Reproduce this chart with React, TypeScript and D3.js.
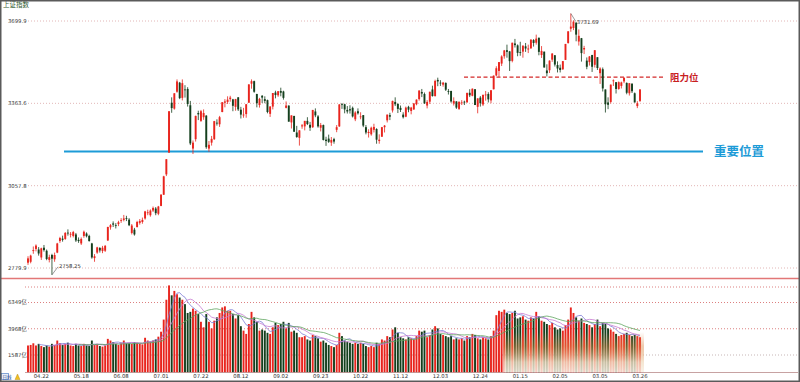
import React from 'react';
import * as d3 from 'd3';

const dates = [
  '04.15','04.16','04.17','04.20','04.21','04.22','04.23','04.24','04.27','04.28','04.29','04.30',
  '05.06','05.07','05.08','05.11','05.12','05.13','05.14','05.15','05.18','05.19','05.20','05.21','05.22','05.25','05.26','05.27','05.28','05.29',
  '06.01','06.02','06.03','06.04','06.05','06.08','06.09','06.10','06.11','06.12','06.15','06.16','06.17','06.18','06.19','06.22','06.23','06.24','06.29','06.30',
  '07.01','07.02','07.03','07.06','07.07','07.08','07.09','07.10','07.13','07.14','07.15','07.16','07.17','07.20','07.21','07.22','07.23','07.24','07.27','07.28','07.29','07.30','07.31',
  '08.03','08.04','08.05','08.06','08.07','08.10','08.11','08.12','08.13','08.14','08.17','08.18','08.19','08.20','08.21','08.24','08.25','08.26','08.27','08.28','08.31',
  '09.01','09.02','09.03','09.04','09.07','09.08','09.09','09.10','09.11','09.14','09.15','09.16','09.17','09.18','09.21','09.22','09.23','09.24','09.25','09.28','09.29','09.30',
  '10.09','10.12','10.13','10.14','10.15','10.16','10.19','10.20','10.21','10.22','10.23','10.26','10.27','10.28','10.29','10.30',
  '11.02','11.03','11.04','11.05','11.06','11.09','11.10','11.11','11.12','11.13','11.16','11.17','11.18','11.19','11.20','11.23','11.24','11.25','11.26','11.27','11.30',
  '12.01','12.02','12.03','12.04','12.07','12.08','12.09','12.10','12.11','12.14','12.15','12.16','12.17','12.18','12.21','12.22','12.23','12.24','12.25','12.28','12.29','12.30','12.31',
  '01.04','01.05','01.06','01.07','01.08','01.11','01.12','01.13','01.14','01.15','01.18','01.19','01.20','01.21','01.22','01.25','01.26','01.27','01.28','01.29',
  '02.01','02.02','02.03','02.04','02.05','02.08','02.09','02.10','02.18','02.19','02.22','02.23','02.24','02.25','02.26',
  '03.01','03.02','03.03','03.04','03.05','03.08','03.09','03.10','03.11','03.12','03.15','03.16','03.17','03.18','03.19','03.22','03.23','03.24','03.25','03.26',
];

const opens = [
  2797,2800,2835,2842,2840,2814,2846,2836,2806,2822,2808,2830,
  2868,2876,2875,2896,2890,2885,2890,2872,2860,2885,2893,2885,2860,2812,2830,2845,2835,2836,
  2870,2914,2927,2921,2925,2937,2939,2945,2940,2895,2906,2915,2929,2932,2944,2962,2955,2971,2978,2960,
  2987,3026,3098,3177,3366,3343,3409,3445,3385,3418,3420,3356,3192,3227,3326,3296,3310,3316,3192,3214,3227,3289,3283,
  3330,3366,3369,3380,3379,3350,3387,3339,3318,3322,3366,3441,3451,3400,3357,3393,3380,3376,3323,3351,3406,
  3395,3412,3410,3346,3355,3290,3315,3252,3232,3275,3275,3296,3281,3272,3332,3313,3270,3280,3225,3229,3214,3227,
  3262,3275,3360,3360,3338,3341,3346,3302,3333,3312,3318,3272,3250,3245,3262,3265,
  3220,3236,3272,3298,3318,3336,3369,3362,3346,3320,3312,3350,3334,3340,3360,3380,3408,3400,3355,3370,3418,
  3392,3456,3445,3437,3444,3412,3412,3363,3371,3342,3366,3370,3368,3405,3393,3419,3350,3386,3359,3396,3400,3375,3419,
  3474,3492,3522,3552,3577,3572,3533,3605,3597,3569,3571,3593,3580,3585,3619,3608,3629,3557,3571,3494,
  3495,3538,3556,3516,3505,3499,3537,3607,3667,3670,3693,3613,3627,3580,3534,
  3528,3557,3517,3548,3483,3499,3418,3367,3369,3451,3447,3420,3432,3450,3444,3403,3441,3403,3353,3373,
];

const highs = [
  2818,2823,2850,2857,2848,2846,2855,2840,2823,2826,2830,2862,
  2882,2886,2898,2907,2898,2902,2895,2880,2880,2903,2897,2889,2862,2825,2849,2848,2852,2855,
  2916,2925,2934,2928,2936,2945,2956,2953,2945,2925,2912,2936,2942,2947,2970,2974,2975,2985,2983,2987,
  3028,3093,3153,3333,3387,3403,3458,3448,3458,3435,3427,3373,3222,3316,3335,3338,3340,3318,3220,3239,3296,3302,3315,
  3368,3380,3391,3393,3381,3381,3388,3350,3346,3361,3439,3458,3453,3401,3385,3396,3391,3378,3353,3404,3413,
  3412,3425,3413,3371,3355,3317,3315,3277,3261,3284,3296,3310,3292,3338,3344,3318,3288,3282,3236,3244,3235,3232,
  3280,3361,3365,3362,3353,3356,3351,3333,3344,3329,3318,3280,3264,3274,3285,3268,
  3245,3273,3280,3320,3327,3374,3387,3362,3355,3329,3351,3354,3350,3365,3379,3414,3420,3406,3376,3409,3433,
  3457,3465,3455,3448,3446,3420,3413,3387,3372,3370,3376,3374,3406,3419,3422,3419,3383,3392,3397,3412,3407,3415,3474,
  3511,3528,3556,3578,3600,3574,3608,3624,3601,3612,3596,3607,3600,3622,3623,3642,3629,3594,3571,3519,
  3535,3565,3557,3531,3518,3532,3603,3656,3732,3703,3694,3664,3628,3595,3547,
  3553,3558,3577,3548,3507,3506,3418,3387,3438,3458,3447,3450,3449,3467,3446,3443,3442,3406,3372,3419,
];

const lows = [
  2790,2795,2826,2834,2820,2806,2833,2805,2798,2758,2800,2828,
  2862,2866,2872,2886,2880,2880,2865,2862,2855,2879,2880,2866,2810,2800,2826,2830,2828,2832,
  2868,2906,2915,2910,2918,2929,2934,2935,2918,2890,2886,2913,2923,2926,2940,2955,2950,2966,2955,2955,
  2986,3025,3092,3177,3327,3339,3405,3380,3375,3386,3351,3205,3172,3218,3299,3292,3300,3191,3180,3203,3224,3278,3273,
  3329,3348,3361,3370,3333,3335,3334,3305,3308,3308,3366,3421,3405,3348,3347,3365,3364,3325,3311,3340,3383,
  3389,3391,3378,3344,3293,3267,3254,3232,3203,3266,3260,3280,3258,3269,3310,3270,3256,3222,3202,3213,3202,3210,
  3253,3273,3342,3325,3324,3324,3309,3295,3320,3302,3272,3245,3233,3240,3252,3210,
  3210,3236,3252,3290,3299,3328,3353,3326,3330,3305,3310,3329,3321,3338,3356,3374,3388,3362,3344,3361,3390,
  3390,3431,3432,3429,3412,3398,3366,3355,3342,3338,3357,3357,3365,3388,3391,3357,3325,3351,3353,3374,3367,3364,3418,
  3471,3468,3512,3542,3546,3492,3527,3588,3552,3554,3546,3570,3565,3582,3592,3600,3556,3545,3506,3470,
  3484,3529,3510,3486,3486,3496,3537,3604,3654,3661,3614,3596,3530,3561,3499,
  3514,3488,3506,3496,3440,3410,3328,3341,3363,3432,3402,3417,3422,3443,3399,3394,3404,3367,3345,3369,
];

const closes = [
  2811,2820,2838,2853,2827,2844,2838,2809,2815,2810,2822,2860,
  2878,2872,2895,2895,2892,2898,2870,2868,2875,2899,2884,2868,2814,2818,2847,2837,2846,2852,
  2915,2921,2923,2919,2931,2938,2944,2943,2921,2920,2890,2932,2935,2939,2968,2965,2971,2980,2962,2985,
  3026,3091,3153,3333,3345,3403,3450,3384,3443,3415,3361,3211,3214,3315,3321,3333,3326,3197,3206,3228,3295,3287,3310,
  3368,3371,3378,3386,3354,3380,3340,3320,3320,3360,3438,3451,3409,3364,3381,3386,3373,3330,3351,3404,3396,
  3411,3405,3385,3355,3293,3317,3255,3235,3260,3279,3296,3284,3270,3338,3317,3275,3280,3224,3220,3217,3224,3218,
  3272,3359,3359,3340,3332,3336,3313,3328,3325,3313,3278,3252,3254,3270,3273,3225,
  3225,3272,3278,3320,3312,3373,3360,3342,3338,3310,3347,3339,3347,3363,3378,3414,3402,3363,3369,3409,3392,
  3452,3450,3443,3445,3417,3411,3371,3373,3347,3370,3367,3367,3404,3395,3421,3357,3383,3364,3397,3398,3379,3415,3473,
  3503,3528,3551,3576,3570,3532,3608,3598,3566,3567,3596,3584,3584,3621,3607,3625,3570,3574,3506,3483,
  3534,3563,3518,3502,3496,3532,3603,3656,3676,3697,3642,3637,3565,3586,3509,
  3551,3509,3577,3504,3502,3422,3360,3358,3437,3454,3420,3447,3446,3464,3405,3443,3411,3367,3364,3418,
];

// turnover, 亿
const volumes = [
  2450,2500,2650,2450,2600,2400,2300,2450,2350,2600,2500,2900,
  2650,2500,2600,2700,2450,2400,2600,2450,2400,2600,2450,2400,2900,2500,2600,2400,2350,2450,
  3050,2900,2750,2600,2500,2700,2900,2650,2650,2600,2750,2700,2600,2550,3150,2900,2800,2900,3000,3250,
  3700,4800,6600,7900,7000,7400,7100,6800,6600,6200,5400,5500,5800,5600,5300,4600,4100,5300,4600,4000,4700,5000,5400,
  5900,6000,5600,5600,5300,4900,5200,4200,3800,3500,4400,5500,5000,4600,3800,3900,3800,3600,3500,4100,4500,
  4300,4400,4600,4000,4500,3700,3800,3600,3200,3200,3300,3000,2900,3400,3300,3100,2800,2900,2700,2500,2400,2300,
  2500,3600,3300,2900,2800,2700,2600,2700,2600,2700,2600,2400,2300,2400,2300,2700,
  2600,3000,2900,3300,3200,3900,4100,3600,3200,3100,3000,3200,3100,3000,3300,3800,3700,3800,3200,3400,3900,
  4200,4000,3500,3400,3300,3200,3300,3000,3100,3000,3100,2900,3300,3200,3500,3400,3100,3000,3200,3100,3000,3300,3800,
  5200,5600,5500,5700,5400,5300,5400,5600,4900,5000,5100,4800,4700,5000,4900,5500,5100,4700,4600,4400,
  4300,4500,4100,3900,4000,3800,4300,4800,5900,5400,5000,4700,4900,4500,4400,
  4300,4100,4400,4800,4200,4500,4400,4000,3900,3700,3500,3300,3400,3500,3600,3400,3300,3400,3300,3200,
];

const dateTicks = ['04.22','05.18','06.08','07.01','07.22','08.12','09.02','09.23','10.22','11.12','12.03','12.24','01.15','02.05','03.05','03.26'];
const priceTicks = [2779.9, 3057.8, 3363.6, 3699.9];
const volTicks = [1587, 3968, 6349];
const maPeriods = [5, 10, 20];
const maColors = ['#7c7cd6', '#c77ad0', '#5ea55e'];
const supportLevel = 3181;
const resistanceLevel = 3467;

const UP = '#e8241d';
const DOWN = '#143f1d';
const NUM_FONT = 'DejaVu Sans, sans-serif';
const CJK_FONT = '"Noto Sans CJK SC", sans-serif';

export default function App() {
  const W = 800, H = 382;
  const x = d3.scalePoint<string>().domain(dates).range([28, 640]);
  const y = d3.scaleLog().domain([priceTicks[0], priceTicks[3]]).range([268, 21]);
  const yv = d3.scaleLinear().domain([0, volTicks[2]]).range([372.5, 302.5]);
  const bw = 1.9;

  const ma = (n: number) => volumes.map((_, i) => (i < n - 1 ? null : (d3.mean(volumes.slice(i - n + 1, i + 1)) as number)));
  const line = d3.line<number | null>()
    .defined((v) => v != null)
    .x((_, i) => x(dates[i]) as number)
    .y((v) => yv(v as number));

  const hiIdx = d3.maxIndex(highs);
  const loIdx = d3.minIndex(lows);
  const hx = x(dates[hiIdx]) as number, hy = y(highs[hiIdx]);
  const lx = x(dates[loIdx]) as number, ly = y(lows[loIdx]);
  const smudgeX0 = (x('01.07') as number) - 1;
  const smudgeX1 = (x('03.26') as number) + 4;

  return (
    <svg width={W} height={H} style={{ position: 'absolute', left: 0, top: 0, background: '#fff' }}>
      <defs>
        <linearGradient id="smudge" x1="0" y1="0" x2="0" y2="1">
          <stop offset="0" stopColor="#d98a4a" stopOpacity={0} />
          <stop offset="0.35" stopColor="#d98a4a" stopOpacity={0.45} />
          <stop offset="0.75" stopColor="#f2dfc6" stopOpacity={0.8} />
          <stop offset="1" stopColor="#f7efe4" stopOpacity={0.85} />
        </linearGradient>
      </defs>
      <rect x={0} y={0} width={W} height={H} fill="#fff" />
      {/* title */}
      <text x={3} y={7} fontSize={6.5} fill="#2f5a2f" fontFamily={CJK_FONT}>上证指数</text>

      {/* price grid */}
      {priceTicks.map((t) => (
        <g key={t}>
          <line x1={28} x2={798} y1={y(t)} y2={y(t)} stroke="#dba3a3" strokeDasharray="1 2" strokeWidth={0.8} />
          <text x={8} y={y(t)} dy="0.35em" fontSize={5.3} fill="#333" fontFamily={NUM_FONT}>{t.toFixed(1)}</text>
        </g>
      ))}

      {/* support line */}
      <line x1={64} x2={703} y1={y(supportLevel)} y2={y(supportLevel)} stroke="#1d9bd7" strokeWidth={2} />
      <text x={714} y={y(supportLevel)} dy="0.36em" fontSize={12.5} fontWeight={700} fill="#1d9bd7" fontFamily={CJK_FONT}>重要位置</text>

      {/* resistance line */}
      <line x1={464} x2={663} y1={y(resistanceLevel)} y2={y(resistanceLevel)} stroke="#d42a2a" strokeWidth={1.4} strokeDasharray="4 2.5" />
      <text x={670} y={y(resistanceLevel)} dy="0.36em" fontSize={9.5} fontWeight={700} fill="#c8201f" fontFamily={CJK_FONT}>阻力位</text>

      {/* candles */}
      {dates.map((d, i) => {
        const cx = x(d) as number;
        const o = opens[i], c = closes[i];
        const col = c >= o ? UP : DOWN;
        const top = y(Math.max(o, c));
        const h = Math.max(0.8, y(Math.min(o, c)) - top);
        return (
          <g key={d}>
            <line x1={cx} x2={cx} y1={y(highs[i])} y2={y(lows[i])} stroke={col} strokeWidth={0.8} />
            <rect x={cx - bw / 2} y={top} width={bw} height={h} fill={col} />
          </g>
        );
      })}

      {/* extreme annotations */}
      <line x1={hx} y1={hy} x2={hx + 5} y2={hy + 8} stroke="#555" strokeWidth={0.6} />
      <text x={hx + 6} y={hy + 10} fontSize={5.3} fill="#333" fontFamily={NUM_FONT}>{highs[hiIdx] === 3732 ? '3731.69' : highs[hiIdx]}</text>
      <line x1={lx} y1={ly} x2={lx + 6} y2={ly - 8} stroke="#555" strokeWidth={0.6} />
      <text x={lx + 7} y={ly - 7} fontSize={5.3} fill="#333" fontFamily={NUM_FONT}>{lows[loIdx] === 2758 ? '2758.25' : lows[loIdx]}</text>

      {/* panel separator */}
      <line x1={0} x2={W} y1={278.5} y2={278.5} stroke="#e27777" strokeWidth={1.6} />
      <line x1={25} x2={798} y1={287} y2={287} stroke="#d36060" strokeDasharray="1 2" strokeWidth={0.8} />

      {/* volume grid */}
      {volTicks.map((t, k) => (
        <g key={t}>
          <line x1={25} x2={798} y1={yv(t)} y2={yv(t)} stroke={k === 0 ? '#b9a3a3' : '#d36060'} strokeDasharray="1 2" strokeWidth={0.8} />
          <text x={8} y={yv(t)} dy="0.35em" fontSize={5.3} fill="#333" fontFamily={NUM_FONT}>{t}<tspan fontFamily={CJK_FONT}>亿</tspan></text>
        </g>
      ))}

      {/* volume bars */}
      {dates.map((d, i) => {
        const cx = x(d) as number;
        const col = closes[i] >= opens[i] ? UP : DOWN;
        return <rect key={d} x={cx - bw / 2} y={yv(volumes[i])} width={bw} height={yv(0) - yv(volumes[i])} fill={col} />;
      })}

      {/* volume moving averages */}
      {maPeriods.map((n, k) => (
        <path key={n} d={line(ma(n)) || ''} fill="none" stroke={maColors[k]} strokeWidth={0.8} />
      ))}

      {/* washed-out patch in the lower right of the volume panel */}
      <rect x={smudgeX0} y={332} width={smudgeX1 - smudgeX0} height={40} fill="url(#smudge)" />

      {/* bottom axis */}
      <line x1={25} x2={798} y1={372.5} y2={372.5} stroke="#b98a8a" strokeWidth={0.8} />
      {dateTicks.map((t) => (
        <text key={t} x={x(t) as number} y={377.5} textAnchor="middle" fontSize={5.3} fill="#333" fontFamily={NUM_FONT}>{t}</text>
      ))}

      {/* bottom-left icons */}
      <rect x={1.5} y={373.5} width={7} height={6} fill="#e8eef8" stroke="#3a6fc0" strokeWidth={0.6} />
      <text x={2.5} y={378.8} fontSize={4.5} fill="#2a4f9a" fontFamily={CJK_FONT}>日线</text>
      <path d="M15,379.5 L17.5,374 L20,379.5 Z" fill="#f0c020" stroke="#b08010" strokeWidth={0.4} />

      {/* frame */}
      <rect x={0.75} y={0.75} width={W - 1.5} height={H - 1.5} fill="none" stroke="#5a5a5a" strokeWidth={1.5} />
    </svg>
  );
}
